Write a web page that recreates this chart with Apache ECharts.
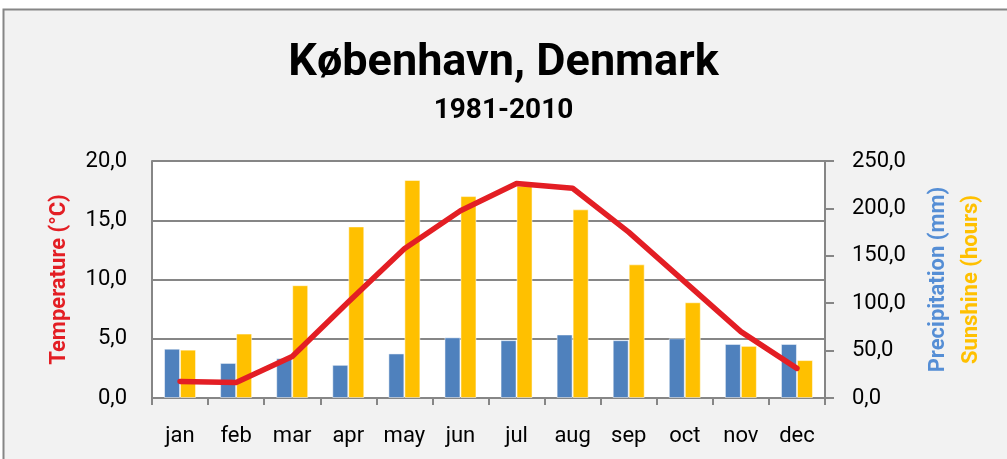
<!DOCTYPE html>
<html>
<head>
<meta charset="utf-8">
<script src="https://cdn.jsdelivr.net/npm/echarts@6/dist/echarts.min.js"></script>
<style>
  html, body { margin: 0; padding: 0; background: #fff; }
  #main { width: 1007px; height: 459px; }
</style>
</head>
<body>
<div id="main"></div>
<script>
// climate normals, 1981-2010
var months = ["jan", "feb", "mar", "apr", "may", "jun", "jul", "aug", "sep", "oct", "nov", "dec"];
var temperature = [1.4, 1.3, 3.5, 8.1, 12.6, 15.8, 18.1, 17.7, 14.0, 9.8, 5.6, 2.5];
var precipitation = [52, 37, 42, 35, 47, 64, 61, 67, 61, 63, 57, 57];
var sunshine = [51, 68, 119, 181, 230, 213, 224, 199, 141, 101, 55, 40];

var font = "Roboto, 'Open Sans', sans-serif";
var gray = "#868686";

function comma(v) {
  return v.toFixed(1).replace(".", ",");
}

var myChart = echarts.init(document.getElementById("main"));

var option = {
  backgroundColor: "#fff",
  animation: false,
  textStyle: { fontFamily: font },
  title: {
    text: "København, Denmark",
    subtext: "1981-2010",
    left: "center",
    top: 36,
    itemGap: 11,
    textStyle: { fontFamily: font, fontSize: 45, fontWeight: "bold", color: "#000" },
    subtextStyle: { fontFamily: font, fontSize: 28, fontWeight: "bold", color: "#000" }
  },
  graphic: [
    {
      type: "rect",
      z: -10,
      shape: { x: 3.5, y: 9.5, width: 1020, height: 470 },
      style: { fill: "#F2F2F2", stroke: gray, lineWidth: 2 }
    }
  ],
  grid: {
    left: 152,
    right: 182,
    top: 161,
    bottom: 61,
    outerBoundsMode: "none",
    containLabel: false,
    show: true,
    backgroundColor: "#fff",
    borderWidth: 0
  },
  xAxis: {
    type: "category",
    data: months,
    axisLine: { lineStyle: { color: gray, width: 2 } },
    axisTick: { show: true, length: 7, interval: 0, lineStyle: { color: gray, width: 2 } },
    axisLabel: { color: "#000", fontSize: 22, margin: 27, interval: 0, fontFamily: font }
  },
  yAxis: [
    {
      type: "value",
      min: 0,
      max: 20,
      interval: 5,
      name: "Temperature (°C)",
      nameLocation: "middle",
      nameRotate: 90,
      nameGap: 82,
      nameTextStyle: { color: "#E31E24", fontSize: 22, fontWeight: "bold", fontFamily: font },
      axisLine: { show: true, lineStyle: { color: gray, width: 2 } },
      axisTick: { show: false },
      splitLine: { lineStyle: { color: gray, width: 2 } },
      axisLabel: { color: "#000", fontSize: 22, margin: 25, formatter: comma, fontFamily: font }
    },
    {
      type: "value",
      min: 0,
      max: 250,
      interval: 50,
      position: "right",
      name: "{p|Precipitation (mm)}\n{s|Sunshine (hours)}",
      nameLocation: "middle",
      nameRotate: 90,
      nameGap: 97,
      nameTextStyle: {
        fontFamily: font,
        lineHeight: 33,
        rich: {
          p: { color: "#558ED5", fontSize: 22, fontWeight: "bold", fontFamily: font, lineHeight: 33 },
          s: { color: "#FFC000", fontSize: 22, fontWeight: "bold", fontFamily: font, lineHeight: 33 }
        }
      },
      axisLine: { show: true, lineStyle: { color: gray, width: 2 } },
      axisTick: { show: true, length: 9, lineStyle: { color: gray, width: 2 } },
      splitLine: { show: false },
      axisLabel: { color: "#000", fontSize: 22, margin: 27, formatter: comma, fontFamily: font }
    }
  ],
  series: [
    {
      name: "Precipitation",
      type: "bar",
      yAxisIndex: 1,
      data: precipitation,
      barWidth: 16,
      barGap: "0%",
      itemStyle: { color: "#4F81BD", borderColor: "rgba(255,255,255,0.5)", borderWidth: 1 }
    },
    {
      name: "Sunshine",
      type: "bar",
      yAxisIndex: 1,
      data: sunshine,
      barWidth: 16,
      barGap: "0%",
      itemStyle: { color: "#FFC000", borderColor: "rgba(255,255,255,0.5)", borderWidth: 1 }
    },
    {
      name: "Temperature",
      type: "line",
      yAxisIndex: 0,
      data: temperature,
      showSymbol: false,
      symbol: "none",
      z: 5,
      lineStyle: { color: "#E31E24", width: 5.5, cap: "round", join: "round" }
    }
  ]
};
myChart.setOption(option);
</script>
</body>
</html>
